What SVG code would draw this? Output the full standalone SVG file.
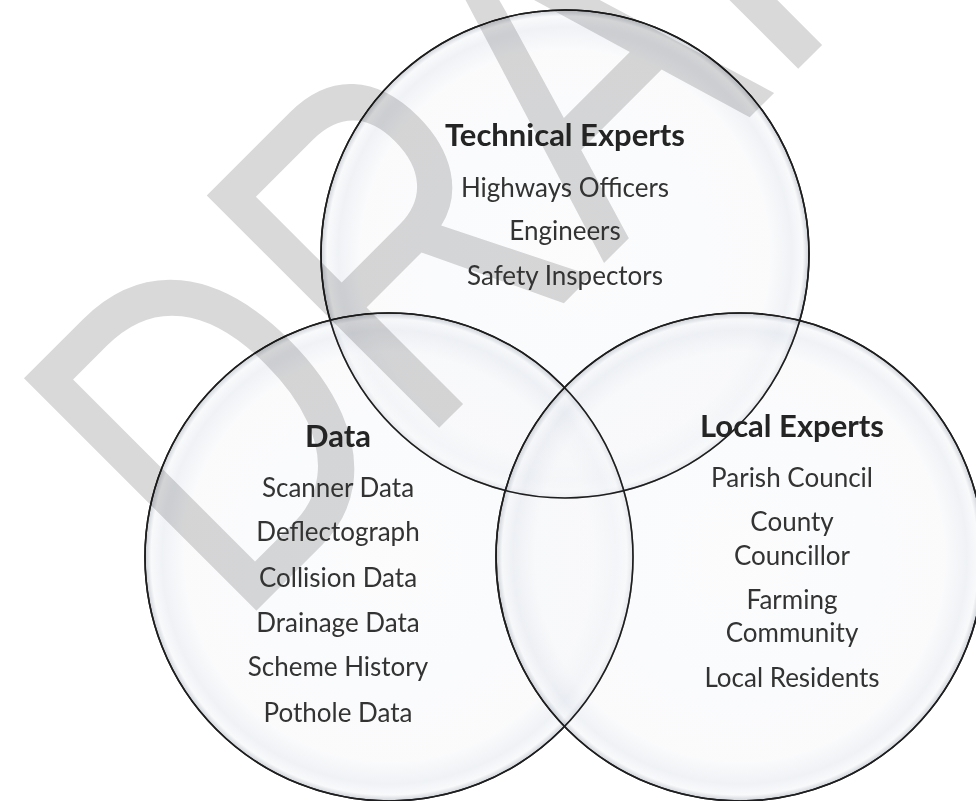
<svg xmlns="http://www.w3.org/2000/svg" width="976" height="801" viewBox="0 0 976 801">
  <defs>
    <radialGradient id="bubble" cx="0.5" cy="0.5" r="0.5">
      <stop offset="0" stop-color="#f8f9fb"/>
      <stop offset="0.84" stop-color="#f6f7f9"/>
      <stop offset="0.93" stop-color="#e3e7ee"/>
      <stop offset="0.975" stop-color="#f3f5f8"/>
      <stop offset="1" stop-color="#a4abb6"/>
    </radialGradient>
    <style>
      .ring { fill: url(#bubble); fill-opacity: 0.55; stroke: #1e1e1e; stroke-width: 1.6; }
      .title { font-family: Lato, "Open Sans", sans-serif; font-weight: bold; font-size: 31px; fill: #242424; text-anchor: middle; }
      .item { font-family: Lato, "Open Sans", sans-serif; font-size: 26px; fill: #333333; text-anchor: middle; }
      .mark { font-family: "Liberation Sans", Arial, sans-serif; font-size: 390px; fill: #d9d9d9; mix-blend-mode: multiply; }
    </style>
  </defs>

  <rect width="976" height="801" fill="#ffffff"/>

  <!-- three overlapping sets -->
  <g id="technical-experts">
    <circle class="ring" cx="565" cy="254" r="244"/>
  </g>
  <g id="data">
    <circle class="ring" cx="389" cy="557" r="244"/>
  </g>
  <g id="local-experts">
    <circle class="ring" cx="740" cy="557" r="244"/>
  </g>

  <!-- set outlines redrawn so every edge shows through the overlaps -->
  <g id="connectors" fill="none" stroke="#1e1e1e" stroke-width="1.6">
    <circle cx="565" cy="254" r="244"/>
    <circle cx="389" cy="557" r="244"/>
    <circle cx="740" cy="557" r="244"/>
  </g>

  <!-- diagonal watermark, multiplied over the sets -->
  <g id="watermark" transform="translate(257,610) rotate(-45) scale(0.93,1.225)">
    <text class="mark"><tspan x="-33" y="0">D</tspan><tspan x="245" y="0">R</tspan><tspan x="527" y="0">A</tspan><tspan x="791" y="0">F</tspan><tspan x="1029" y="0">T</tspan></text>
  </g>

  <g id="technical-experts-labels">
    <text class="title" x="565" y="146">Technical Experts</text>
    <text class="item" x="565" y="197">Highways Officers</text>
    <text class="item" x="565" y="240">Engineers</text>
    <text class="item" x="565" y="285">Safety Inspectors</text>
  </g>

  <g id="data-labels">
    <text class="title" x="338" y="447">Data</text>
    <text class="item" x="338" y="497">Scanner Data</text>
    <text class="item" x="338" y="541">Deflectograph</text>
    <text class="item" x="338" y="587">Collision Data</text>
    <text class="item" x="338" y="632">Drainage Data</text>
    <text class="item" x="338" y="676">Scheme History</text>
    <text class="item" x="338" y="722">Pothole Data</text>
  </g>

  <g id="local-experts-labels">
    <text class="title" x="792" y="437">Local Experts</text>
    <text class="item" x="792" y="487">Parish Council</text>
    <text class="item" x="792" y="531">County</text>
    <text class="item" x="792" y="565">Councillor</text>
    <text class="item" x="792" y="609">Farming</text>
    <text class="item" x="792" y="642">Community</text>
    <text class="item" x="792" y="687">Local Residents</text>
  </g>
</svg>
